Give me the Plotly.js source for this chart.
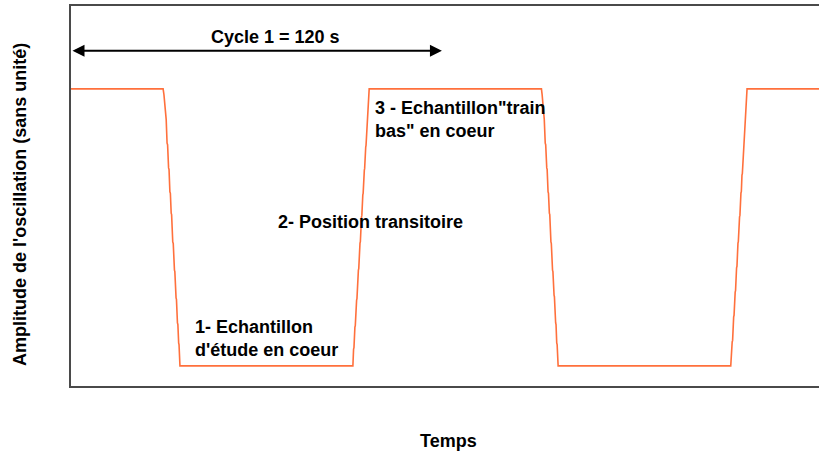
<!DOCTYPE html>
<html>
<head>
<meta charset="utf-8">
<script src="https://cdn.plot.ly/plotly-3.0.1.min.js"></script>
<style>html,body{margin:0;padding:0;background:#fff;overflow:hidden}#chart{width:819px;height:455px}</style>
</head>
<body>
<div id="chart"></div>
<script>
// Time (s) and oscillation amplitude (arbitrary units)
var time = [
  0, 29.8, 30.08,
  30.63, 30.8, 31.08, 31.25, 31.57, 31.72, 31.99, 32.15, 32.41, 32.55,
  32.92, 33.08, 33.47, 33.6, 33.99, 34.12, 34.44, 34.58, 34.83, 34.95, 35.25,
  91.2, 91.42, 91.55, 91.85, 91.98, 92.40, 92.52, 92.98, 93.1, 93.50, 93.62,
  93.99, 94.1, 94.41, 94.52, 94.90, 95.0, 95.35, 95.45, 96.47,
  152.2, 152.43,
  152.98, 153.12, 153.43, 153.58, 153.92, 154.05, 154.34, 154.48, 154.76, 154.9,
  155.27, 155.4, 155.79, 155.92, 156.28, 156.4, 156.80, 156.92, 157.15, 157.28, 157.6,
  213.45, 213.91, 214.05, 214.39, 214.52, 214.88, 215.0, 215.33, 215.46, 215.78, 215.9,
  216.30, 216.42, 216.75, 216.88, 217.08, 217.2, 218.72,
  242
];
var amplitude = [
  78.2, 78.2, 76.6,
  70.5, 70.1, 63.9, 63.5, 57.4, 57.0, 51.1, 50.7, 45.5, 45.1,
  37.9, 37.5, 30.5, 30.1, 23.2, 22.8, 16.6, 16.2, 11.3, 10.9, 5.3,
  5.3, 9.7, 10.1, 15.5, 15.9, 22.6, 23.0, 30.5, 30.9, 37.6, 38.0,
  44.5, 44.9, 50.3, 50.7, 56.8, 57.2, 62.9, 63.3, 78.2,
  78.2, 76.6,
  70.5, 70.1, 63.9, 63.5, 57.4, 57.0, 51.1, 50.7, 45.5, 45.1,
  37.9, 37.5, 30.5, 30.1, 23.9, 23.5, 16.6, 16.2, 11.3, 10.9, 5.3,
  5.3, 11.6, 12.0, 18.2, 18.6, 24.7, 25.1, 31.1, 31.5, 37.6, 38.0,
  44.5, 44.9, 50.8, 51.2, 55.5, 55.9, 78.2,
  78.2
];
var cycleStart = 0, cycleEnd = 120; // cycle 1 = 120 s
var labels = {
  cycle: "Cycle 1 = 120 s",
  phase3: "3 - Echantillon\"train<br>bas\" en coeur",
  phase2: "2- Position transitoire",
  phase1: "1- Echantillon<br>d'étude en coeur",
  xTitle: "Temps",
  yTitle: "Amplitude de l'oscillation (sans unité)"
};

var font = {family: "Liberation Sans, Arial, sans-serif", size: 18, color: "#000"};
function bold(s){ return "<b>" + s + "</b>"; }

var trace = {
  x: time, y: amplitude, type: "scatter", mode: "lines",
  line: {color: "rgb(255,112,60)", width: 1.6},
  hoverinfo: "skip", showlegend: false
};

var layout = {
  width: 819, height: 455,
  margin: {l: 71, r: 0, t: 6, b: 69},
  paper_bgcolor: "#fff", plot_bgcolor: "#fff",
  xaxis: {range: [0, 242], showline: true, mirror: true, linecolor: "#4a4a4a", linewidth: 2,
          showgrid: false, zeroline: false, showticklabels: false, ticks: ""},
  yaxis: {range: [0, 100], showline: true, mirror: false, linecolor: "#4a4a4a", linewidth: 2,
          showgrid: false, zeroline: false, showticklabels: false, ticks: ""},
  annotations: [
    {x: cycleEnd, y: 88.2, ax: cycleStart, ay: 88.2, xref: "x", yref: "y", axref: "x", ayref: "y",
     text: "", showarrow: true, arrowside: "end+start", arrowhead: 2, arrowsize: 1.2,
     arrowwidth: 2, arrowcolor: "#000", standoff: 0, startstandoff: 0},
    {x: 66.3, y: 91.8, xref: "x", yref: "y", text: bold(labels.cycle), showarrow: false,
     xanchor: "center", yanchor: "middle", font: font},
    {x: 97.7, y: 70.1, xref: "x", yref: "y", text: bold(labels.phase3), showarrow: false,
     xanchor: "left", yanchor: "middle", align: "left", font: font},
    {x: 66.3, y: 43.2, xref: "x", yref: "y", text: bold(labels.phase2), showarrow: false,
     xanchor: "left", yanchor: "middle", align: "left", font: font},
    {x: 39.6, y: 12.6, xref: "x", yref: "y", text: bold(labels.phase1), showarrow: false,
     xanchor: "left", yanchor: "middle", align: "left", font: font},
    {x: 0.505, y: -0.145, xref: "paper", yref: "paper", text: bold(labels.xTitle), showarrow: false,
     xanchor: "center", yanchor: "middle", font: font},
    {x: -0.0682, y: 0.479, xref: "paper", yref: "paper", text: bold(labels.yTitle), showarrow: false,
     textangle: -90, xanchor: "center", yanchor: "middle", font: font}
  ]
};

Plotly.newPlot("chart", [trace], layout, {displayModeBar: false, staticPlot: true});
</script>
</body>
</html>
